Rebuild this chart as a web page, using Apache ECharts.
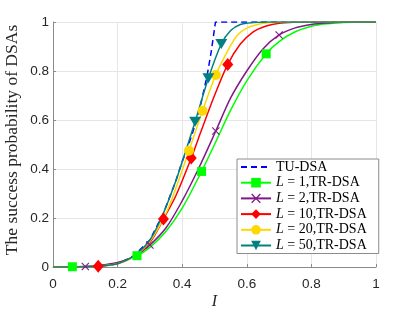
<!DOCTYPE html>
<html><head><meta charset="utf-8">
<script src="https://cdn.jsdelivr.net/npm/echarts@6/dist/echarts.min.js"></script>
<style>html,body{margin:0;padding:0;background:#fff}#c{width:415px;height:312px}</style>
</head><body><div id="c"></div>
<script>
// ---- data ----
const seriesNames = ['TU-DSA', 'L = 1,TR-DSA', 'L = 2,TR-DSA', 'L = 10,TR-DSA', 'L = 20,TR-DSA', 'L = 50,TR-DSA'];
const xTickLabels = ['0', '0.2', '0.4', '0.6', '0.8', '1'];
const yTickLabels = ['0', '0.2', '0.4', '0.6', '0.8', '1'];

const tuX = [0, 0.05, 0.1, 0.15, 0.2, 0.25, 0.3, 0.342, 0.38, 0.40, 0.42, 0.435, 0.455, 0.477, 0.49, 0.503, 0.55, 0.6, 0.7, 0.8, 0.9, 1];
const tuY = [0, 0, 0.001, 0.004, 0.013, 0.045, 0.11, 0.22, 0.35, 0.43, 0.50, 0.56, 0.65, 0.78, 0.88, 1, 1, 1, 1, 1, 1, 1];

const l1X = [0, 0.06, 0.1, 0.15, 0.2, 0.26, 0.3, 0.35, 0.4, 0.46, 0.5, 0.55, 0.6, 0.66, 0.7, 0.75, 0.8, 0.85, 0.9, 0.95, 1];
const l1Y = [0, 0.001, 0.002, 0.007, 0.017, 0.046, 0.08, 0.146, 0.24, 0.39, 0.50, 0.64, 0.76, 0.87, 0.92, 0.96, 0.983, 0.993, 0.998, 1, 1];
const l1Marks = [0.06, 0.26, 0.46, 0.66];

const l2X = [0, 0.05, 0.1, 0.15, 0.2, 0.25, 0.3, 0.35, 0.4, 0.45, 0.504, 0.55, 0.6, 0.65, 0.7, 0.75, 0.8, 0.85, 0.9, 0.95, 1];
const l2Y = [0, 0, 0.002, 0.007, 0.018, 0.042, 0.09, 0.16, 0.27, 0.40, 0.555, 0.69, 0.80, 0.89, 0.947, 0.976, 0.99, 0.996, 0.999, 1, 1];
const l2Marks = [0.1, 0.3, 0.504, 0.7];

const l10X = [0, 0.05, 0.1, 0.14, 0.2, 0.25, 0.3, 0.342, 0.38, 0.428, 0.46, 0.5, 0.541, 0.58, 0.62, 0.66, 0.7, 0.75, 0.8, 0.9, 1];
const l10Y = [0, 0, 0.001, 0.003, 0.014, 0.043, 0.10, 0.196, 0.29, 0.445, 0.56, 0.70, 0.827, 0.91, 0.96, 0.984, 0.995, 0.999, 1, 1, 1];
const l10Marks = [0.14, 0.342, 0.428, 0.541];

const l20X = [0, 0.05, 0.1, 0.15, 0.2, 0.25, 0.3, 0.35, 0.38, 0.421, 0.463, 0.504, 0.54, 0.57, 0.6, 0.64, 0.68, 0.72, 0.8, 0.9, 1];
const l20Y = [0, 0, 0.001, 0.004, 0.013, 0.042, 0.105, 0.22, 0.32, 0.475, 0.638, 0.784, 0.88, 0.945, 0.975, 0.992, 0.998, 1, 1, 1, 1];
const l20Marks = [0.421, 0.463, 0.504];

const l50X = [0, 0.05, 0.1, 0.15, 0.2, 0.25, 0.3, 0.342, 0.38, 0.40, 0.44, 0.481, 0.521, 0.55, 0.58, 0.62, 0.66, 0.7, 0.8, 0.9, 1];
const l50Y = [0, 0, 0.001, 0.004, 0.013, 0.045, 0.11, 0.22, 0.35, 0.43, 0.593, 0.77, 0.91, 0.965, 0.99, 0.998, 1, 1, 1, 1, 1];
const l50Marks = [0.44, 0.481, 0.521];

// ---- build ----
function build(xs, ys, marks) {
  return xs.map((x, i) => {
    const m = marks.some(v => Math.abs(v - x) < 1e-9);
    return m ? { value: [x, ys[i]] } : { value: [x, ys[i]], symbol: 'none' };
  });
}
const xMark = 'path://M0,1L1,0L5,4L9,0L10,1L6,5L10,9L9,10L5,6L1,10L0,9L4,5Z';

function lineSeries(name, data, color, symbol, size, extra) {
  return Object.assign({
    name: name, type: 'line', data: data, smooth: 0.3,
    symbol: symbol, symbolSize: size, showSymbol: true,
    lineStyle: { color: color, width: 1.5 },
    itemStyle: { color: color },
    emphasis: { disabled: true }, animation: false
  }, extra || {});
}

const chart = echarts.init(document.getElementById('c'), null, { renderer: 'canvas' });
chart.setOption({
  animation: false,
  backgroundColor: '#ffffff',
  grid: { left: 53, right: 39, top: 22, bottom: 45, outerBoundsMode: 'none' },
  xAxis: {
    type: 'value', min: 0, max: 1, interval: 0.2,
    name: 'I', nameLocation: 'middle', nameGap: 27, nameMoveOverlap: false,
    nameTextStyle: { fontFamily: 'Liberation Serif', fontStyle: 'italic', fontSize: 16, color: '#262626' },
    axisLine: { show: true, lineStyle: { color: '#8a8a8a', width: 1 } },
    axisTick: { show: true, inside: true, length: 3, lineStyle: { color: '#8a8a8a' } },
    axisLabel: { color: '#262626', fontFamily: 'Liberation Sans', fontSize: 13.5, margin: 10,
      formatter: v => xTickLabels[Math.round(v / 0.2)] },
    splitLine: { show: true, lineStyle: { color: '#e6e6e6', width: 1 } }
  },
  yAxis: {
    type: 'value', min: 0, max: 1, interval: 0.2,
    name: 'The success probability of DSAs', nameLocation: 'middle', nameGap: 31.5, nameMoveOverlap: false,
    nameTextStyle: { fontFamily: 'Liberation Serif', fontSize: 17.5, color: '#262626', padding: [0, 0, 0, 9] },
    axisLine: { show: true, lineStyle: { color: '#8a8a8a', width: 1 } },
    axisTick: { show: true, inside: true, length: 3, lineStyle: { color: '#8a8a8a' } },
    axisLabel: { color: '#262626', fontFamily: 'Liberation Sans', fontSize: 13.5, margin: 4,
      formatter: v => yTickLabels[Math.round(v / 0.2)] },
    splitLine: { show: true, lineStyle: { color: '#e6e6e6', width: 1 } }
  },
  legend: {
    orient: 'vertical', left: 237, top: 159,
    padding: [1, 12, 1, 3], itemGap: 1.7, itemWidth: 30, itemHeight: 12, itemTextGap: 2,
    backgroundColor: '#ffffff', borderColor: '#8c8c8c', borderWidth: 1, borderRadius: 0,
    textStyle: { fontFamily: 'Liberation Serif', fontSize: 14, color: '#000',
      rich: { i: { fontStyle: 'italic', fontFamily: 'Liberation Serif', fontSize: 14, color: '#000' } } },
    formatter: name => name.replace(/^L/, '{i|L}'),
    data: [
      { name: seriesNames[0], itemStyle: { opacity: 0 } },
      seriesNames[1], seriesNames[2], seriesNames[3], seriesNames[4], seriesNames[5]
    ]
  },
  series: [
    lineSeries(seriesNames[0], build(tuX, tuY, []), '#0000ff', 'none', 0,
      { smooth: false, lineStyle: { color: '#0000ff', width: 1.5, type: [6, 4] } }),
    lineSeries(seriesNames[1], build(l1X, l1Y, l1Marks), '#00ff00', 'rect', 9),
    lineSeries(seriesNames[2], build(l2X, l2Y, l2Marks), '#801a88', xMark, 8),
    lineSeries(seriesNames[3], build(l10X, l10Y, l10Marks), '#ff0000', 'diamond', [11, 13]),
    lineSeries(seriesNames[4], build(l20X, l20Y, l20Marks), '#ffd700', 'circle', 10),
    lineSeries(seriesNames[5], build(l50X, l50Y, l50Marks), '#008080', 'triangle', [12, 10], { symbolRotate: 180 })
  ]
});
</script>
</body></html>
